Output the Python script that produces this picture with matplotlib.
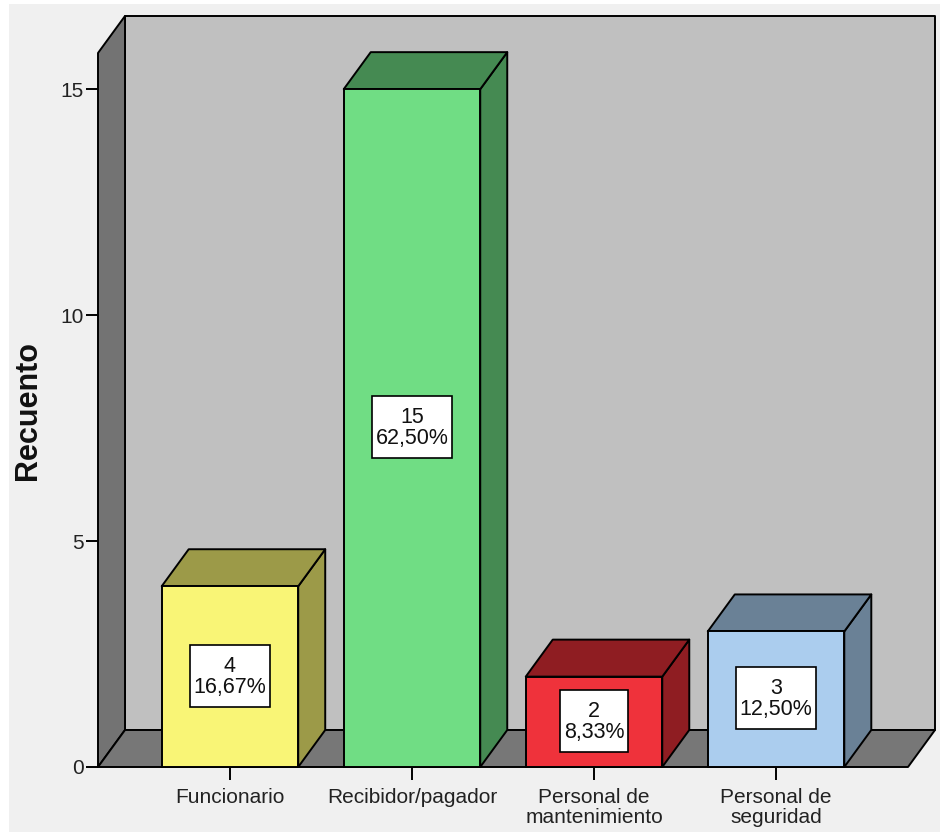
import matplotlib
matplotlib.use("Agg")
import matplotlib.pyplot as plt
from matplotlib.patches import Polygon, Rectangle
from matplotlib.transforms import IdentityTransform

# datos del gráfico
categorias = ["Funcionario", "Recibidor/pagador", "Personal de\nmantenimiento", "Personal de\nseguridad"]
recuento = [4, 15, 2, 3]
color_frente = ["#f9f576", "#70dd84", "#ef323b", "#abcdee"]
color_lado = ["#9c9a48", "#458a52", "#8f1d22", "#6a8196"]
ticks_y = [0, 5, 10, 15]

plt.rcParams["font.family"] = ["Liberation Sans", "DejaVu Sans"]

W, H = 940, 832
fig = plt.figure(figsize=(W / 100, H / 100), dpi=100, facecolor="white")
fig.patches.append(Rectangle((9 / W, 0), 1 - 9 / W, 1 - 4 / H, transform=fig.transFigure,
                             facecolor="#f0f0f0", edgecolor="none", zorder=-10))

# plano frontal de los ejes
x0px, x1px, ytop, ybot = 98, 908, 53, 767
ax = fig.add_axes([x0px / W, 1 - ybot / H, (x1px - x0px) / W, (ybot - ytop) / H])
ax.set_facecolor("none")
xmin, xmax = -0.725, 3.725
ymin, ymax = 0, 15.8
ax.set_xlim(xmin, xmax)
ax.set_ylim(ymin, ymax)

# profundidad 3D en unidades de datos (27 px a la derecha, 37 px hacia arriba)
dx = 27 * (xmax - xmin) / (x1px - x0px)
dy = 37 * (ymax - ymin) / (ybot - ytop)
ancho = 0.75
lw = 1.4
kw = dict(edgecolor="black", linewidth=lw, clip_on=False, joinstyle="round")

# pared del fondo, pared izquierda y suelo
ax.add_patch(Polygon([(xmin + dx, ymin + dy), (xmax + dx, ymin + dy), (xmax + dx, ymax + dy),
                      (xmin + dx, ymax + dy)], facecolor="#c0c0c0", zorder=1, **kw))
ax.add_patch(Polygon([(xmin, ymin), (xmin + dx, ymin + dy), (xmin + dx, ymax + dy), (xmin, ymax)],
                     facecolor="#737373", zorder=2, **kw))
ax.add_patch(Polygon([(xmin, ymin), (xmax, ymin), (xmax + dx, ymin + dy), (xmin + dx, ymin + dy)],
                     facecolor="#777777", zorder=2, **kw))

total = sum(recuento)
etiquetas = []
for i, v in enumerate(recuento):
    l, r = i - ancho / 2, i + ancho / 2
    # cara lateral y superior
    ax.add_patch(Polygon([(r, 0), (r + dx, dy), (r + dx, v + dy), (r, v)],
                         facecolor=color_lado[i], zorder=3, **kw))
    ax.add_patch(Polygon([(l, v), (r, v), (r + dx, v + dy), (l + dx, v + dy)],
                         facecolor=color_lado[i], zorder=3, **kw))
    ax.bar(i, v, width=ancho, color=color_frente[i], edgecolor="black", linewidth=lw,
           zorder=4, clip_on=False)
    pct = f"{100 * v / total:.2f}%".replace(".", ",")
    t = ax.text(i, v / 2, f"{v}\n{pct}", ha="center", va="center", fontsize=15.5,
                color="#111111", linespacing=1.0, zorder=6)
    etiquetas.append(t)

for s in ax.spines.values():
    s.set_visible(False)

ax.set_yticks(ticks_y)
ax.set_xticks(range(len(categorias)))
ax.set_xticklabels(categorias)
ax.tick_params(axis="y", length=9, width=1.4, pad=1, labelsize=15, labelcolor="#222222")
ax.tick_params(axis="x", length=9, width=1.4, pad=6, labelsize=15, labelcolor="#222222")
for t in ax.get_xticklabels():
    t.set_linespacing(1.1)

ax.set_ylabel("Recuento", fontsize=22, fontweight="bold", color="#111111")
ax.yaxis.set_label_coords(-(98 - 43) / (x1px - x0px), 0.5)

# recuadro blanco de cada etiqueta, con más margen arriba y abajo
fig.canvas.draw()
for t in etiquetas:
    bb = t.get_window_extent()
    px, py = 4, 11
    caja = Rectangle((bb.x0 - px, bb.y0 - py + 2), bb.width + 2 * px, bb.height + 2 * py - 2,
                     transform=IdentityTransform(), facecolor="white",
                     edgecolor="black", linewidth=1.2, zorder=5, clip_on=False)
    ax.add_artist(caja)

fig.savefig("out.png", dpi=100, facecolor=fig.get_facecolor())
